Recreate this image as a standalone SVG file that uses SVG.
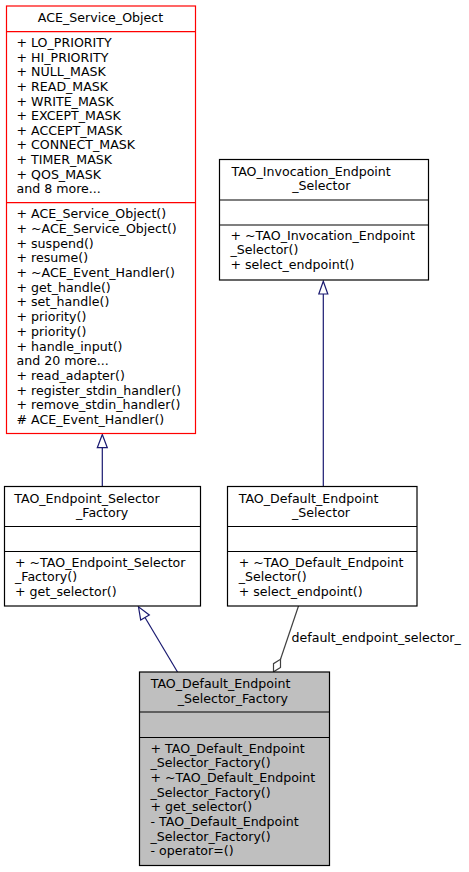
<svg xmlns="http://www.w3.org/2000/svg" width="469" height="872" viewBox="0 0 469 872">
<style>
text{font-family:"DejaVu Sans","Liberation Sans",sans-serif;font-size:12.6px;fill:#000}
.box{fill:#fff;stroke:#000;stroke-width:1.2}
.red{fill:#fff;stroke:#ff0000;stroke-width:1.2}
.cur{fill:#bfbfbf;stroke:#000;stroke-width:1.2}
.sep{stroke:#000;stroke-width:1.2}
.sepr{stroke:#ff0000;stroke-width:1.2}
.inh{stroke:#191970;stroke-width:1.2;fill:none}
.inhh{stroke:#191970;stroke-width:1.2;fill:#fff}
.cmp{stroke:#404040;stroke-width:1.2;fill:none}
.cmph{stroke:#404040;stroke-width:1.2;fill:#fff}
</style>
<rect width="469" height="872" fill="#fff"/>
<g id="edges">
<line class="inh" x1="102.3" y1="486.5" x2="102.3" y2="447.7"/>
<polygon class="inhh" points="102.3,434.5 97.3,447.7 107.3,447.7"/>
<line class="inh" x1="323.3" y1="486.5" x2="323.3" y2="294"/>
<polygon class="inhh" points="323.3,281.2 318.8,294 327.8,294"/>
<line class="inh" x1="177.5" y1="672" x2="145" y2="617.5"/>
<polygon class="inhh" points="138.5,606.8 140.7,620 149.3,615"/>
<line class="cmp" x1="298.5" y1="606" x2="280.5" y2="659.3"/>
<polygon class="cmph" points="280.5,659.3 280.5,667.45 273.5,671.8 273.5,663.65"/>
<text x="291.5" y="642">default_endpoint_selector_</text>
</g>
<g id="ACE_Service_Object">
<rect class="red" x="6.5" y="6" width="189" height="427.5"/>
<line class="sepr" x1="6.5" y1="31.7" x2="195.5" y2="31.7"/>
<line class="sepr" x1="6.5" y1="202.7" x2="195.5" y2="202.7"/>
<text x="100.5" y="21.7" text-anchor="middle">ACE_Service_Object</text>
<text x="16.5" y="47">+ LO_PRIORITY</text>
<text x="16.5" y="61.6">+ HI_PRIORITY</text>
<text x="16.5" y="76.3">+ NULL_MASK</text>
<text x="16.5" y="90.9">+ READ_MASK</text>
<text x="16.5" y="105.5">+ WRITE_MASK</text>
<text x="16.5" y="120.2">+ EXCEPT_MASK</text>
<text x="16.5" y="134.8">+ ACCEPT_MASK</text>
<text x="16.5" y="149.4">+ CONNECT_MASK</text>
<text x="16.5" y="164">+ TIMER_MASK</text>
<text x="16.5" y="178.7">+ QOS_MASK</text>
<text x="16.5" y="193.3">and 8 more...</text>
<text x="16.5" y="218.3">+ ACE_Service_Object()</text>
<text x="16.5" y="233">+ ~ACE_Service_Object()</text>
<text x="16.5" y="247.7">+ suspend()</text>
<text x="16.5" y="262.4">+ resume()</text>
<text x="16.5" y="277.1">+ ~ACE_Event_Handler()</text>
<text x="16.5" y="291.8">+ get_handle()</text>
<text x="16.5" y="306.4">+ set_handle()</text>
<text x="16.5" y="321.1">+ priority()</text>
<text x="16.5" y="335.8">+ priority()</text>
<text x="16.5" y="350.5">+ handle_input()</text>
<text x="16.5" y="365.2">and 20 more...</text>
<text x="16.5" y="379.9">+ read_adapter()</text>
<text x="16.5" y="394.6">+ register_stdin_handler()</text>
<text x="16.5" y="409.3">+ remove_stdin_handler()</text>
<text x="16.5" y="424"># ACE_Event_Handler()</text>
</g>
<g id="TAO_Invocation_Endpoint_Selector">
<rect class="box" x="219.5" y="159.5" width="209" height="120.5"/>
<line class="sep" x1="219.5" y1="200" x2="428.5" y2="200"/>
<line class="sep" x1="219.5" y1="225" x2="428.5" y2="225"/>
<text x="231.5" y="175.8">TAO_Invocation_Endpoint</text>
<text x="292.3" y="190.3">_Selector</text>
<text x="230.5" y="239.5">+ ~TAO_Invocation_Endpoint</text>
<text x="230.5" y="254.2">_Selector()</text>
<text x="230.5" y="268.9">+ select_endpoint()</text>
</g>
<g id="TAO_Endpoint_Selector_Factory">
<rect class="box" x="4.5" y="486.5" width="196" height="119.5"/>
<line class="sep" x1="4.5" y1="526.5" x2="200.5" y2="526.5"/>
<line class="sep" x1="4.5" y1="551.5" x2="200.5" y2="551.5"/>
<text x="14.3" y="503">TAO_Endpoint_Selector</text>
<text x="76" y="517.3">_Factory</text>
<text x="15" y="566.5">+ ~TAO_Endpoint_Selector</text>
<text x="15" y="581.2">_Factory()</text>
<text x="15" y="595.9">+ get_selector()</text>
</g>
<g id="TAO_Default_Endpoint_Selector">
<rect class="box" x="227.5" y="486.5" width="189.5" height="119.5"/>
<line class="sep" x1="227.5" y1="526.5" x2="417" y2="526.5"/>
<line class="sep" x1="227.5" y1="551.5" x2="417" y2="551.5"/>
<text x="238.7" y="503">TAO_Default_Endpoint</text>
<text x="292" y="517.3">_Selector</text>
<text x="238.7" y="566.5">+ ~TAO_Default_Endpoint</text>
<text x="238.7" y="581.2">_Selector()</text>
<text x="238.7" y="595.9">+ select_endpoint()</text>
</g>
<g id="TAO_Default_Endpoint_Selector_Factory">
<rect class="cur" x="139.5" y="672" width="190" height="193.5"/>
<line class="sep" x1="139.5" y1="712" x2="329.5" y2="712"/>
<line class="sep" x1="139.5" y1="737.5" x2="329.5" y2="737.5"/>
<text x="150.7" y="688.3">TAO_Default_Endpoint</text>
<text x="177.7" y="703">_Selector_Factory</text>
<text x="150.5" y="752.5">+ TAO_Default_Endpoint</text>
<text x="150.5" y="767.2">_Selector_Factory()</text>
<text x="150.5" y="781.8">+ ~TAO_Default_Endpoint</text>
<text x="150.5" y="796.5">_Selector_Factory()</text>
<text x="150.5" y="811.2">+ get_selector()</text>
<text x="150.5" y="825.8">- TAO_Default_Endpoint</text>
<text x="150.5" y="840.5">_Selector_Factory()</text>
<text x="150.5" y="855.2">- operator=()</text>
</g>
</svg>
